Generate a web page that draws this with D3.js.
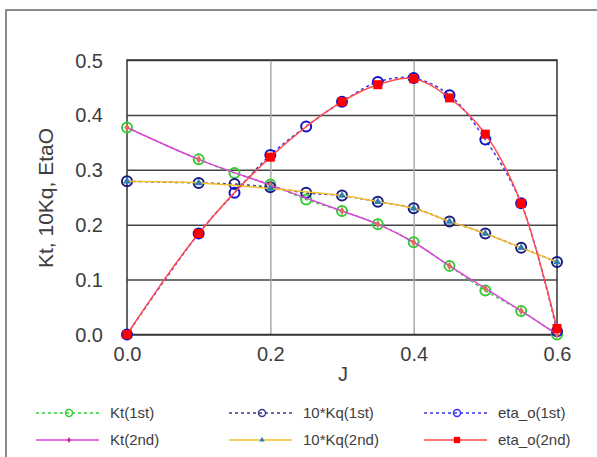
<!DOCTYPE html>
<html>
<head>
<meta charset="utf-8">
<script src="https://cdn.jsdelivr.net/npm/d3@7"></script>
<style>
  body { margin: 0; background: #fff; }
  svg text { font-family: "Liberation Sans", Arial, sans-serif; }
</style>
</head>
<body>
<div id="chart"></div>
<script>
(function () {
  // 1st run measurements
  const J1 = [0, 0.1, 0.15, 0.2, 0.25, 0.3, 0.35, 0.4, 0.45, 0.5, 0.55, 0.6];
  const kt1 = [0.377, 0.319, 0.294, 0.273, 0.246, 0.225, 0.201, 0.168, 0.125, 0.080, 0.043, 0.0];
  const kq1 = [0.279, 0.276, 0.274, 0.268, 0.258, 0.253, 0.242, 0.230, 0.206, 0.184, 0.158, 0.132];
  const eta1 = [0.0, 0.184, 0.258, 0.327, 0.379, 0.424, 0.460, 0.467, 0.436, 0.355, 0.239, 0.006];

  // 2nd run measurements
  const J2 = [0, 0.1, 0.2, 0.3, 0.35, 0.4, 0.45, 0.5, 0.55, 0.6];
  const kt2 = [0.377, 0.319, 0.272, 0.225, 0.201, 0.168, 0.125, 0.084, 0.043, 0.0];
  const kq2 = [0.279, 0.276, 0.266, 0.253, 0.242, 0.230, 0.206, 0.184, 0.158, 0.132];
  const eta2 = [0.0, 0.184, 0.323, 0.424, 0.455, 0.466, 0.431, 0.365, 0.239, 0.011];

  const xTicks = [0, 0.2, 0.4, 0.6];
  const yTicks = [0, 0.1, 0.2, 0.3, 0.4, 0.5];

  const series = [
    { name: "Kt(1st)", J: J1, v: kt1, color: "#33cc33", dash: "3,3", marker: "circle", mColor: "#33cc33" },
    { name: "10*Kq(1st)", J: J1, v: kq1, color: "#3a3a8c", dash: "3,3", marker: "circle", mColor: "#1a1a80" },
    { name: "eta_o(1st)", J: J1, v: eta1, color: "#3333ee", dash: "3,3", marker: "circle", mColor: "#1111cc" },
    { name: "Kt(2nd)", J: J2, v: kt2, color: "#dd44dd", dash: null, marker: "diamond", mColor: "#d8705a" },
    { name: "10*Kq(2nd)", J: J2, v: kq2, color: "#f5c030", dash: null, marker: "triangle", mColor: "#2f7fb5" },
    { name: "eta_o(2nd)", J: J2, v: eta2, color: "#ff4d4d", dash: null, marker: "square", mColor: "#ff0000" }
  ];

  const W = 597, H = 457;
  const left = 127, right = 557, top = 60, bottom = 334.5;

  const svg = d3.select("#chart").append("svg")
    .attr("width", W)
    .attr("height", H);

  // outer frame (extends past the window)
  svg.append("rect")
    .attr("x", 6).attr("y", 10)
    .attr("width", 700).attr("height", 600)
    .attr("fill", "none")
    .attr("stroke", "#666")
    .attr("stroke-width", 1.5);

  const x = d3.scaleLinear().domain([0, 0.6]).range([left, right]);
  const y = d3.scaleLinear().domain([0, 0.5]).range([bottom, top]);

  // horizontal grid
  svg.append("g")
    .attr("transform", `translate(${left},0)`)
    .call(d3.axisLeft(y).tickValues(yTicks).tickSize(-(right - left)).tickFormat(""))
    .call(g => g.select(".domain").remove())
    .call(g => g.selectAll(".tick line").attr("stroke", "#444").attr("stroke-width", 1.5));

  // vertical grid
  svg.append("g")
    .attr("transform", `translate(0,${bottom})`)
    .call(d3.axisBottom(x).tickValues([0.2, 0.4]).tickSize(-(bottom - top)).tickFormat(""))
    .call(g => g.select(".domain").remove())
    .call(g => g.selectAll(".tick line").attr("stroke", "#aaa").attr("stroke-width", 1.5));

  // plot frame
  svg.append("rect")
    .attr("x", left).attr("y", top)
    .attr("width", right - left).attr("height", bottom - top)
    .attr("fill", "none")
    .attr("stroke", "#333")
    .attr("stroke-width", 1.5);

  // tick labels
  svg.append("g")
    .attr("transform", `translate(${left - 24},0)`)
    .call(d3.axisLeft(y).tickValues(yTicks).tickSize(0).tickFormat(d3.format(".1f")))
    .call(g => g.select(".domain").remove())
    .call(g => g.selectAll("text")
      .attr("fill", "#3d3d3d")
      .style("font-size", "20px")
      .attr("x", 0)
      .attr("dy", "0.35em"));

  svg.append("g")
    .attr("transform", `translate(0,${bottom + 12})`)
    .call(d3.axisBottom(x).tickValues(xTicks).tickSize(0).tickFormat(d3.format(".1f")))
    .call(g => g.select(".domain").remove())
    .call(g => g.selectAll("text")
      .attr("fill", "#3d3d3d")
      .style("font-size", "20px")
      .attr("y", 0)
      .attr("dy", "0.71em"));

  svg.append("text")
    .attr("x", 343).attr("y", 381)
    .attr("text-anchor", "middle")
    .attr("fill", "#3d3d3d")
    .style("font-size", "20px")
    .text("J");

  svg.append("text")
    .attr("transform", "translate(53,198) rotate(-90)")
    .attr("text-anchor", "middle")
    .attr("fill", "#3d3d3d")
    .style("font-size", "21px")
    .text("Kt, 10Kq, EtaO");

  const line = d3.line()
    .x(d => x(d[0]))
    .y(d => y(d[1]))
    .curve(d3.curveCatmullRom.alpha(0.5));

  function drawMarker(g, type, color, cx, cy, scale) {
    if (type === "circle") {
      g.append("circle")
        .attr("cx", cx).attr("cy", cy).attr("r", 5 * scale)
        .attr("fill", "none")
        .attr("stroke", color)
        .attr("stroke-width", 2 * scale);
    } else if (type === "square") {
      const s = 9 * scale;
      g.append("rect")
        .attr("x", cx - s / 2).attr("y", cy - s / 2)
        .attr("width", s).attr("height", s)
        .attr("fill", color);
    } else if (type === "triangle") {
      g.append("path")
        .attr("d", d3.symbol(d3.symbolTriangle, 26 * scale * scale)())
        .attr("transform", `translate(${cx},${cy})`)
        .attr("fill", color);
    } else {
      g.append("path")
        .attr("d", d3.symbol(d3.symbolDiamond, 22 * scale * scale)())
        .attr("transform", `translate(${cx},${cy})`)
        .attr("fill", color);
    }
  }

  const plot = svg.append("g");

  series.forEach(s => {
    const pts = s.J.map((j, i) => [j, s.v[i]]);
    plot.append("path")
      .datum(pts)
      .attr("d", line)
      .attr("fill", "none")
      .attr("stroke", s.color)
      .attr("stroke-width", 1.5)
      .attr("stroke-dasharray", s.dash);
    const mg = plot.append("g");
    pts.forEach(p => drawMarker(mg, s.marker, s.mColor, x(p[0]), y(p[1]), 1));
  });

  // legend
  const cols = [36, 229, 424];
  const rows = [413, 440];
  series.forEach((s, i) => {
    const cx = cols[i % 3], cy = rows[Math.floor(i / 3)];
    const g = svg.append("g");
    g.append("line")
      .attr("x1", cx).attr("x2", cx + 63)
      .attr("y1", cy).attr("y2", cy)
      .attr("stroke", s.color)
      .attr("stroke-width", 1.5)
      .attr("stroke-dasharray", s.dash);
    const legColor = s.marker === "circle" ? s.color : (s.marker === "diamond" ? "#c0306a" : s.mColor);
    drawMarker(g, s.marker, legColor, cx + 33, cy, 0.7);
    g.append("text")
      .attr("x", cx + 74).attr("y", cy)
      .attr("dy", "0.35em")
      .attr("fill", "#3d3d3d")
      .style("font-size", "15px")
      .text(s.name);
  });
})();
</script>
</body>
</html>
